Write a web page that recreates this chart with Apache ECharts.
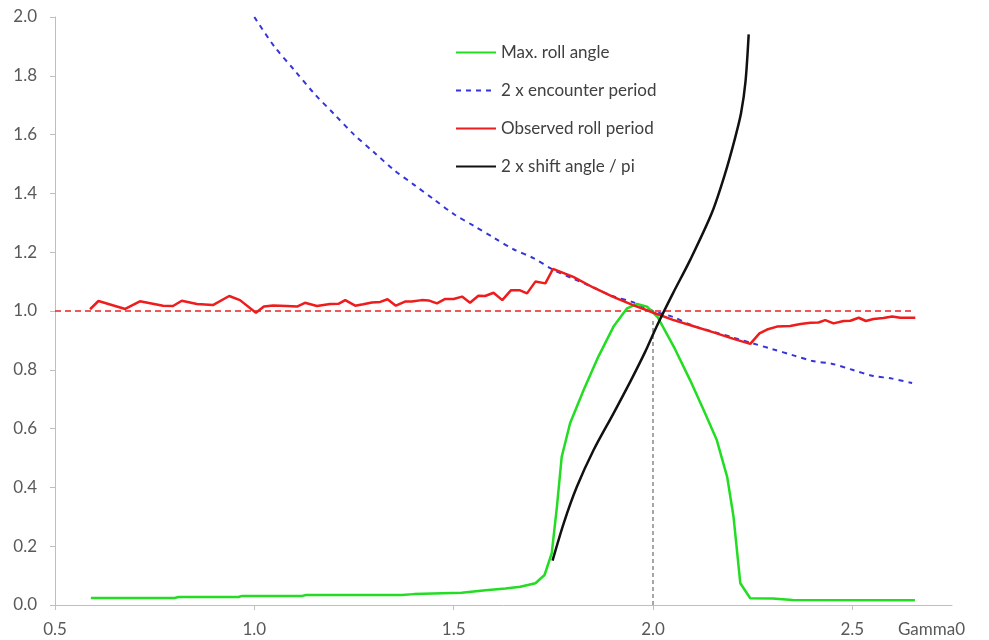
<!DOCTYPE html>
<html>
<head>
<meta charset="utf-8">
<script src="https://cdn.jsdelivr.net/npm/echarts@6/dist/echarts.min.js"></script>
<style>html,body{margin:0;padding:0;background:#fff}#chart{width:989px;height:640px}</style>
</head>
<body>
<div id="chart"></div>
<script>
// ---- data ----
const xTicks = [0.5, 1.0, 1.5, 2.0, 2.5];
const seriesNames = ['Max. roll angle', '2 x encounter period', 'Observed roll period', '2 x shift angle / pi'];

const rollAngleX = [0.59,0.80,0.81,0.96,0.97,1.12,1.13,1.37,1.40,1.52,1.58,1.63,1.667,1.705,1.728,1.746,1.759,1.771,1.792,1.826,1.863,1.901,1.935,1.960,1.985,2.012,2.052,2.093,2.127,2.160,2.186,2.202,2.219,2.244,2.30,2.35,2.657];
const rollAngleY = [0.024,0.024,0.027,0.027,0.031,0.031,0.034,0.034,0.037,0.042,0.050,0.056,0.062,0.074,0.102,0.176,0.334,0.504,0.618,0.731,0.845,0.947,1.009,1.024,1.015,0.978,0.879,0.765,0.663,0.561,0.436,0.30,0.074,0.023,0.022,0.017,0.016];

const encounterX = [1.00,1.05,1.10,1.15,1.20,1.25,1.30,1.35,1.40,1.45,1.50,1.55,1.60,1.65,1.70,1.75,1.80,1.85,1.90,1.95,2.00,2.05,2.10,2.15,2.20,2.25,2.30,2.35,2.40,2.45,2.50,2.55,2.60,2.65];
const encounterY = [2.00,1.90,1.82,1.74,1.67,1.60,1.54,1.48,1.43,1.38,1.33,1.29,1.25,1.21,1.18,1.14,1.11,1.08,1.05,1.03,1.00,0.98,0.95,0.93,0.91,0.89,0.87,0.85,0.83,0.82,0.80,0.78,0.77,0.755];

const observedX = [0.588,0.609,0.676,0.713,0.771,0.796,0.818,0.856,0.896,0.937,0.964,1.004,1.024,1.047,1.081,1.107,1.127,1.157,1.190,1.212,1.228,1.253,1.273,1.295,1.316,1.334,1.355,1.378,1.395,1.420,1.437,1.458,1.479,1.500,1.521,1.541,1.562,1.579,1.600,1.622,1.644,1.665,1.684,1.705,1.730,1.749,1.800,1.850,1.900,1.950,2.000,2.050,2.100,2.150,2.200,2.244,2.267,2.286,2.311,2.344,2.370,2.395,2.415,2.432,2.453,2.478,2.495,2.516,2.534,2.553,2.578,2.600,2.620,2.658];
const observedY = [1.006,1.034,1.007,1.033,1.018,1.017,1.035,1.024,1.020,1.051,1.037,0.994,1.015,1.019,1.017,1.015,1.028,1.017,1.024,1.025,1.037,1.018,1.023,1.029,1.031,1.040,1.018,1.032,1.032,1.037,1.036,1.026,1.041,1.041,1.049,1.028,1.052,1.051,1.062,1.037,1.071,1.071,1.060,1.100,1.094,1.143,1.116,1.080,1.048,1.020,0.995,0.970,0.949,0.928,0.906,0.888,0.924,0.937,0.947,0.949,0.956,0.960,0.961,0.969,0.958,0.966,0.967,0.977,0.966,0.973,0.976,0.981,0.977,0.977];

const shiftX = [1.748,1.776,1.809,1.851,1.901,1.945,1.980,2.010,2.050,2.093,2.148,2.181,2.206,2.221,2.232,2.240];
const shiftY = [0.151,0.278,0.402,0.527,0.652,0.765,0.860,0.950,1.060,1.173,1.335,1.468,1.589,1.674,1.780,1.941];

const unityX = [0.5, 2.657];
const unityY = [1.0, 1.0];
const markerX = [2.0, 2.0];
const markerY = [0.0, 0.97];

// ---- chart ----
const pairs = (xs, ys) => xs.map((x, i) => [x, ys[i]]);
const FONT = 'Lato';
const labelColor = '#595959';
const axisColor = '#bfbfbf';

const chart = echarts.init(document.getElementById('chart'), null, {renderer: 'canvas'});
chart.setOption({
  animation: false,
  backgroundColor: '#ffffff',
  textStyle: {fontFamily: FONT},
  grid: {left: 55, right: 37, top: 17, bottom: 35, containLabel: false},
  legend: {
    data: seriesNames,
    orient: 'vertical',
    left: 455,
    top: 44,
    padding: 0,
    itemWidth: 40,
    itemHeight: 14,
    itemGap: 21,
    itemStyle: {opacity: 0},
    textStyle: {fontFamily: FONT, fontSize: 17, color: '#404040', lineHeight: 17}
  },
  xAxis: {
    type: 'value',
    min: 0.5,
    max: 2.75,
    interval: 0.5,
    name: 'Gamma0',
    nameLocation: 'end',
    nameGap: -54,
    nameTextStyle: {fontFamily: FONT, fontSize: 17, color: labelColor, verticalAlign: 'top', padding: [16, 0, 0, 0]},
    splitLine: {show: false},
    axisLine: {lineStyle: {color: axisColor, width: 1}},
    axisTick: {show: true, length: 5, lineStyle: {color: axisColor}, customValues: xTicks},
    axisLabel: {fontFamily: FONT, fontSize: 17, color: labelColor, margin: 16,
      customValues: xTicks, formatter: v => v.toFixed(1)}
  },
  yAxis: {
    type: 'value',
    min: 0,
    max: 2,
    interval: 0.2,
    splitLine: {show: false},
    axisLine: {show: true, lineStyle: {color: axisColor, width: 1}},
    axisTick: {show: true, length: 5, lineStyle: {color: axisColor}},
    axisLabel: {fontFamily: FONT, fontSize: 17, color: labelColor, margin: 18, formatter: v => v.toFixed(1)}
  },
  series: [
    {
      name: 'unity', type: 'line', data: pairs(unityX, unityY), symbol: 'none', silent: true,
      lineStyle: {color: '#ee2020', width: 1.6, type: [6, 4]}, z: 1
    },
    {
      name: 'marker', type: 'line', data: pairs(markerX, markerY), symbol: 'none', silent: true,
      lineStyle: {color: '#777777', width: 1.3, type: [4, 3]}, z: 1
    },
    {
      name: seriesNames[0], type: 'line', data: pairs(rollAngleX, rollAngleY), symbol: 'none',
      color: '#22dd22', lineStyle: {color: '#22dd22', width: 2.5}, z: 3
    },
    {
      name: seriesNames[1], type: 'line', data: pairs(encounterX, encounterY), symbol: 'none', smooth: 0.3,
      color: '#3535d8', lineStyle: {color: '#3535d8', width: 2, type: [5, 5]}, z: 2
    },
    {
      name: seriesNames[2], type: 'line', data: pairs(observedX, observedY), symbol: 'none',
      color: '#ee1c1c', lineStyle: {color: '#ee1c1c', width: 2.5}, z: 4
    },
    {
      name: seriesNames[3], type: 'line', data: pairs(shiftX, shiftY), symbol: 'none', smooth: 0.3,
      color: '#111111', lineStyle: {color: '#111111', width: 2.5}, z: 5
    }
  ]
});
</script>
</body>
</html>
